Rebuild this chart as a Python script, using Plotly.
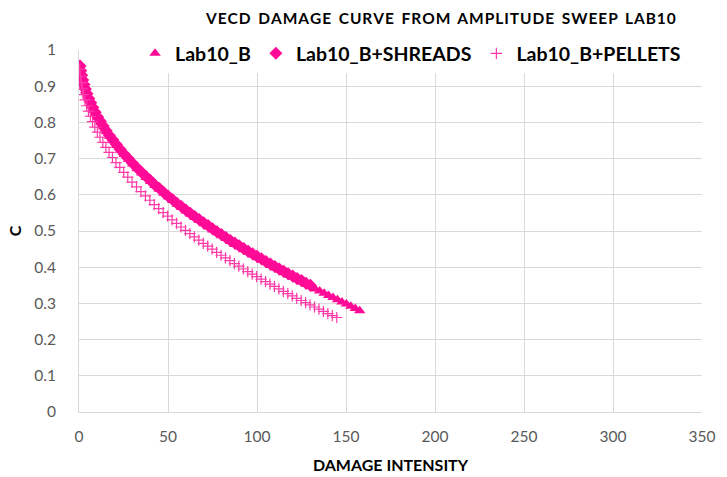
import plotly.graph_objects as go

# Lab10_B (triangles)
lab10_b_x = [0.5, 0.8, 1.2, 1.7, 2.3, 3.0, 3.8, 4.7, 5.7, 6.8, 8.0, 9.3, 10.7, 12.2, 13.8, 15.5,
             17.3, 19.2, 21.2, 23.3, 25.5, 27.8, 30.2, 32.7, 35.2, 37.7, 40.2, 42.7, 45.2, 47.7,
             50.2, 52.7, 55.2, 57.7, 60.2, 62.7, 65.2, 67.7, 70.2, 72.7, 75.2, 77.7, 80.2, 82.7,
             85.2, 87.7, 90.2, 92.7, 95.2, 97.7, 100.2, 102.7, 105.2, 107.7, 110.2, 112.7, 115.2,
             117.7, 120.2, 122.7, 125.2, 127.7, 130.2, 132.7, 135.2, 137.7, 140.2, 142.7, 145.2,
             147.7, 150.2, 152.7, 155.2, 157.7]
lab10_b_c = [0.959, 0.949, 0.937, 0.925, 0.913, 0.901, 0.888, 0.876, 0.863, 0.851, 0.838, 0.825,
             0.813, 0.800, 0.787, 0.774, 0.762, 0.749, 0.736, 0.723, 0.711, 0.698, 0.685, 0.672,
             0.660, 0.648, 0.637, 0.626, 0.615, 0.604, 0.594, 0.584, 0.574, 0.565, 0.555, 0.546,
             0.537, 0.529, 0.520, 0.511, 0.503, 0.495, 0.487, 0.479, 0.471, 0.463, 0.456, 0.448,
             0.441, 0.434, 0.426, 0.419, 0.412, 0.405, 0.398, 0.392, 0.385, 0.378, 0.372, 0.365,
             0.359, 0.353, 0.346, 0.340, 0.334, 0.328, 0.322, 0.316, 0.310, 0.304, 0.298, 0.292,
             0.286, 0.280]

# Lab10_B+SHREADS (diamonds)
shreads_x = [0.6, 1.0, 1.5, 2.1, 2.8, 3.6, 4.5, 5.5, 6.6, 7.8, 9.1, 10.5, 12.0, 13.6, 15.3, 17.1,
             19.0, 21.0, 23.1, 25.3, 27.6, 30.0, 32.5, 35.0, 37.5, 40.0, 42.5, 45.0, 47.5, 50.0,
             52.5, 55.0, 57.5, 60.0, 62.5, 65.0, 67.5, 70.0, 72.5, 75.0, 77.5, 80.0, 82.5, 85.0,
             87.5, 90.0, 92.5, 95.0, 97.5, 100.0, 102.5, 105.0, 107.5, 110.0, 112.5, 115.0, 117.5,
             120.0, 122.5, 125.0, 127.5, 130.0]
shreads_c = [0.956, 0.943, 0.930, 0.917, 0.905, 0.892, 0.879, 0.866, 0.854, 0.841, 0.828, 0.815,
             0.803, 0.790, 0.777, 0.764, 0.752, 0.739, 0.726, 0.713, 0.701, 0.688, 0.675, 0.663,
             0.651, 0.640, 0.628, 0.618, 0.607, 0.597, 0.587, 0.577, 0.568, 0.558, 0.549, 0.540,
             0.532, 0.523, 0.515, 0.506, 0.498, 0.490, 0.482, 0.474, 0.467, 0.459, 0.452, 0.444,
             0.437, 0.430, 0.423, 0.416, 0.409, 0.402, 0.395, 0.389, 0.382, 0.376, 0.369, 0.363,
             0.356, 0.350]

# Lab10_B+PELLETS (crosses)
pellets_x = [0.4, 0.8, 1.3, 1.9, 2.6, 3.4, 4.3, 5.3, 6.4, 7.6, 8.9, 10.3, 11.8, 13.4, 15.1, 16.9,
             18.8, 20.8, 22.9, 25.1, 27.4, 29.8, 32.3, 34.8, 37.3, 39.8, 42.3, 44.8, 47.3, 49.8,
             52.3, 54.8, 57.3, 59.8, 62.3, 64.8, 67.3, 69.8, 72.3, 74.8, 77.3, 79.8, 82.3, 84.8,
             87.3, 89.8, 92.3, 94.8, 97.3, 99.8, 102.3, 104.8, 107.3, 109.8, 112.3, 114.8, 117.3,
             119.8, 122.3, 124.8, 127.3, 129.8, 132.3, 134.8, 137.3, 139.8, 142.3, 144.8]
pellets_c = [0.947, 0.928, 0.910, 0.893, 0.877, 0.862, 0.846, 0.831, 0.817, 0.802, 0.787, 0.773,
             0.759, 0.745, 0.731, 0.717, 0.703, 0.689, 0.676, 0.662, 0.649, 0.635, 0.622, 0.609,
             0.597, 0.585, 0.573, 0.562, 0.551, 0.541, 0.531, 0.521, 0.511, 0.502, 0.493, 0.484,
             0.475, 0.466, 0.458, 0.450, 0.441, 0.433, 0.426, 0.418, 0.410, 0.403, 0.395, 0.388,
             0.381, 0.374, 0.367, 0.360, 0.353, 0.347, 0.340, 0.333, 0.327, 0.321, 0.314, 0.308,
             0.302, 0.296, 0.290, 0.284, 0.278, 0.272, 0.266, 0.261]

x_ticks = [0, 50, 100, 150, 200, 250, 300, 350]
y_ticks = [0, 0.1, 0.2, 0.3, 0.4, 0.5, 0.6, 0.7, 0.8, 0.9, 1]
y_tick_text = ["0", "0.1", "0.2", "0.3", "0.4", "0.5", "0.6", "0.7", "0.8", "0.9", "1"]

title_text = "VECD DAMAGE CURVE FROM AMPLITUDE SWEEP LAB10"

PINK = "#FF0A96"
FONT = "Lato"


def spaced(s):
    hair = "\u200a"
    words = s.split(" ")
    return "  ".join(hair.join(list(w)) for w in words)


fig = go.Figure()
fig.add_trace(go.Scatter(
    x=lab10_b_x, y=lab10_b_c, mode="markers", name="Lab10_B",
    marker=dict(symbol="triangle-up", size=10, color=PINK, line=dict(width=0)),
))
fig.add_trace(go.Scatter(
    x=shreads_x, y=shreads_c, mode="markers", name="Lab10_B+SHREADS",
    marker=dict(symbol="diamond", size=10, color=PINK, line=dict(width=0)),
))
fig.add_trace(go.Scatter(
    x=pellets_x, y=pellets_c, mode="markers", name="Lab10_B+PELLETS",
    marker=dict(symbol="cross-thin", size=8, color=PINK, line=dict(width=1.2, color="#FF3AA8")),
))

fig.update_layout(
    width=727, height=477,
    margin=dict(l=79, r=25, t=50, b=65, autoexpand=False),
    paper_bgcolor="white", plot_bgcolor="white",
    font=dict(family=FONT, size=14, color="#595959"),
    showlegend=True,
    legend=dict(
        orientation="h", x=0.09, y=0.99, xanchor="left", yanchor="middle",
        bgcolor="white", font=dict(family=FONT, size=19.5, color="black", weight="bold"),
        itemwidth=30, tracegroupgap=0,
    ),
    annotations=[dict(
        text=spaced(title_text),
        xref="paper", yref="paper", x=0.58, y=1.0, yshift=32, xanchor="center", yanchor="middle",
        showarrow=False, font=dict(family=FONT, size=15.5, color="black", weight="bold"),
    )],
)
fig.update_xaxes(
    range=[0, 350], tickvals=x_ticks, showgrid=True, gridcolor="#D9D9D9", gridwidth=1,
    showline=True, linecolor="#D9D9D9", zeroline=False, ticks="", ticklabelstandoff=10,
    automargin=False,
    title=dict(text="DAMAGE INTENSITY", font=dict(family=FONT, size=16, color="black", weight="bold"), standoff=16),
    tickfont=dict(family=FONT, size=15.5, color="#595959"),
)
fig.update_yaxes(
    range=[0, 1], tickvals=y_ticks, ticktext=y_tick_text, showgrid=True, gridcolor="#D9D9D9", gridwidth=1,
    showline=True, linecolor="#D9D9D9", zeroline=False, ticks="", ticklabelstandoff=19,
    automargin=False,
    title=dict(text="C", font=dict(family=FONT, size=16, color="black", weight="bold"), standoff=8),
    tickfont=dict(family=FONT, size=15.5, color="#595959"),
)

fig.write_html(
    "out.html",
    config={"displayModeBar": False},
    post_script="document.body.style.margin='0';document.body.style.padding='0';",
)
